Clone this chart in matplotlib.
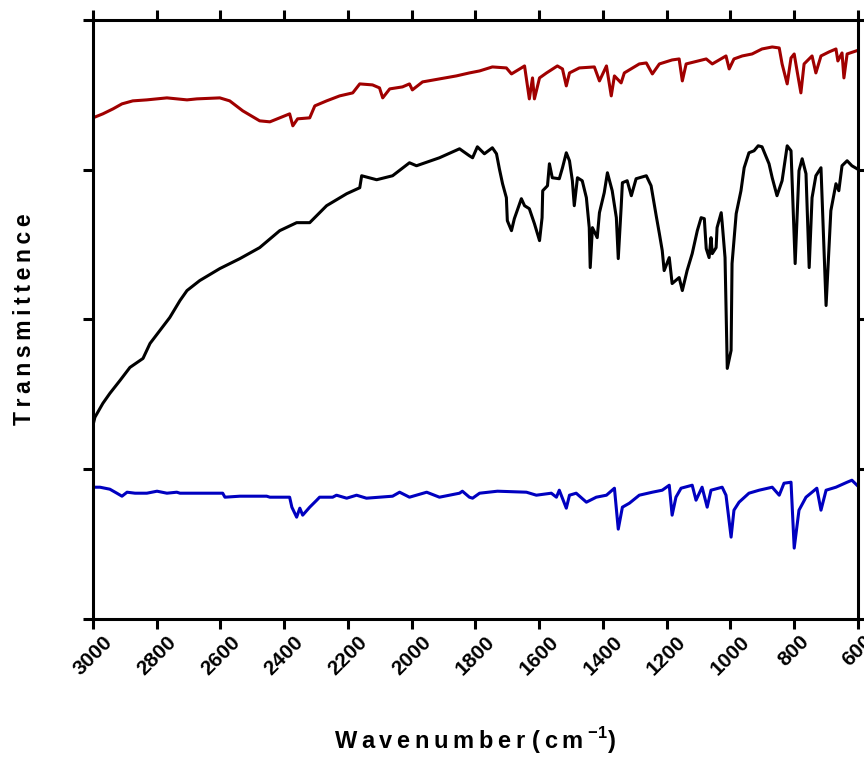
import matplotlib
matplotlib.use("Agg")
import matplotlib.pyplot as plt

plt.rcParams['font.family'] = ['Liberation Sans', 'DejaVu Sans']
plt.rcParams['mathtext.fontset'] = 'custom'
plt.rcParams['mathtext.bf'] = 'Liberation Sans:bold'
plt.rcParams['mathtext.rm'] = 'Liberation Sans:bold'

# spectra (wavenumber, transmittance in arbitrary units)
black_wn = [3000, 2994, 2969, 2947, 2915, 2884, 2843, 2821, 2790, 2759, 2727, 2705,
            2665, 2602, 2539, 2477, 2414, 2361, 2320, 2267, 2204, 2163, 2157, 2110,
            2060, 2007, 1985, 1913, 1850, 1819, 1809, 1794, 1772, 1747, 1734, 1725,
            1715, 1703, 1700, 1687, 1678, 1656, 1646, 1631, 1615, 1599, 1591, 1589,
            1574, 1568, 1559, 1537, 1527, 1515, 1505, 1496, 1490, 1480, 1465, 1452,
            1443, 1440, 1433, 1418, 1411, 1396, 1386, 1371, 1358, 1352, 1343, 1339,
            1324, 1311, 1296, 1264, 1249, 1233, 1223, 1214, 1208, 1192, 1183, 1161,
            1151, 1136, 1120, 1104, 1092, 1082, 1076, 1067, 1061, 1057, 1045, 1042,
            1029, 1026, 1017, 1010, 998, 995, 982, 967, 957, 942, 926, 913, 901, 879,
            869, 854, 838, 822, 810, 797, 785, 775, 763, 753, 744, 732, 716, 700,
            685, 669, 660, 650, 634, 619, 603]
black_t = [194, 202, 216, 226, 239, 252, 261, 276, 289, 302, 319, 329,
           339, 351, 361, 372, 389, 397, 397, 414, 426, 432, 444, 440,
           444, 457, 454, 462, 471, 464, 462, 473, 466, 472, 466, 451,
           436, 422, 399, 389, 401, 421, 414, 411, 396, 379, 402, 429,
           434, 456, 442, 441, 452, 467, 459, 439, 414, 442, 439, 422,
           392, 352, 392, 382, 407, 427, 447, 429, 402, 361, 412, 437,
           439, 424, 441, 444, 434, 404, 386, 369, 349, 362, 336, 342,
           329, 349, 366, 389, 402, 401, 371, 362, 382, 366, 372, 392,
           407, 397, 362, 251, 269, 356, 406, 429, 452, 467, 469, 474, 473, 456,
           442, 424, 439, 474, 469, 356, 449, 461, 446, 352, 422, 444, 452, 314,
           409, 436, 429, 454, 459, 454, 451]

red_wn = [3000, 2969, 2937, 2909, 2875, 2831, 2768, 2705, 2674, 2602, 2571, 2530,
          2477, 2445, 2414, 2383, 2373, 2358, 2320, 2304, 2267, 2226, 2185, 2163,
          2123, 2101, 2091, 2069, 2029, 2007, 1998, 1966, 1913, 1860, 1819, 1787,
          1747, 1703, 1687, 1656, 1646, 1631, 1621, 1615, 1599, 1577, 1543, 1527,
          1515, 1505, 1474, 1427, 1411, 1389, 1374, 1364, 1343, 1333, 1286, 1264,
          1245, 1223, 1183, 1161, 1151, 1139, 1076, 1057, 1014, 1004, 989, 963,
          932, 901, 869, 847, 838, 822, 810, 800, 791, 779, 769, 744, 732, 716,
          691, 669, 663, 650, 644, 634, 606]
red_t = [502, 506, 511, 516, 519, 520, 522, 520, 521, 522, 519, 509,
         499, 498, 502, 506, 494, 501, 502, 514, 519, 524, 527, 536,
         535, 532, 522, 531, 533, 536, 530, 538, 541, 544, 547, 549,
         553, 552, 546, 552, 554, 521, 542, 521, 542, 547, 554, 551,
         534, 547, 552, 553, 539, 554, 524, 544, 537, 547, 556, 557,
         546, 556, 560, 561, 539, 556, 561, 556, 564, 551, 561, 564,
         566, 571, 573, 572, 556, 536, 562, 566, 549, 527, 556, 564, 547, 564,
         568, 571, 559, 567, 542, 566, 569]

blue_wn = [3000, 2978, 2947, 2925, 2909, 2893, 2868, 2831, 2799, 2768, 2737, 2727,
           2593, 2586, 2539, 2455, 2445, 2383, 2376, 2361, 2351, 2342, 2320, 2298,
           2289, 2248, 2236, 2204, 2173, 2142, 2060, 2038, 2007, 1953, 1913, 1850,
           1841, 1819, 1809, 1787, 1731, 1640, 1609, 1562, 1546, 1537, 1515, 1505,
           1484, 1452, 1421, 1389, 1364, 1352, 1339, 1317, 1286, 1245, 1214, 1192,
           1183, 1171, 1155, 1120, 1108, 1089, 1073, 1061, 1026, 1014, 998, 989,
           973, 942, 910, 869, 847, 832, 810, 800, 785, 763, 744, 729, 716, 700,
           669, 634, 619, 603]
blue_t = [132, 132, 130, 126, 123, 127, 126, 126, 128, 126, 127, 126,
          126, 122, 123, 123, 122, 122, 112, 102, 111, 104, 112, 119,
          122, 122, 124, 121, 124, 121, 123, 127, 122, 127, 122, 126,
          128, 122, 121, 126, 128, 127, 124, 126, 122, 129, 111, 124,
          126, 117, 122, 124, 131, 90, 112, 116, 124, 127, 129, 134,
          104, 122, 131, 134, 119, 132, 112, 129, 132, 124, 82, 109,
          117, 126, 129, 132, 124, 136, 137, 71, 109, 122, 127, 131, 109, 129,
          132, 137, 139, 134]

x_ticks = [3000, 2800, 2600, 2400, 2200, 2000, 1800, 1600, 1400, 1200, 1000, 800, 600]
y_ticks = [0, 150, 300, 450, 600]

fig = plt.figure(figsize=(8.64, 7.58), dpi=100)
ax = fig.add_axes([0.1076, 0.1834, 0.8854, 0.7902])

ax.plot(red_wn, red_t, color='#A00000', lw=2.2)
ax.plot(black_wn, black_t, color='black', lw=2.2)
ax.plot(blue_wn, blue_t, color='#0000C0', lw=2.2)

ax.set_xlim(3000, 600)
ax.set_ylim(0, 600)
ax.set_xticks(x_ticks)
ax.set_yticks(y_ticks)
ax.set_yticklabels([])
ax.set_xticklabels([str(t) for t in x_ticks], rotation=45, ha='center',
                   fontsize=15, fontweight='bold')
ax.tick_params(axis='both', which='major', direction='out', length=7.5, width=2.2,
               top=True, right=True, pad=2)
for s in ax.spines.values():
    s.set_linewidth(2.2)

# letter-spaced labels, like the original
ts = '\u2009'
xlab = ts.join('Wavenumber') + ' (' + ts + 'c' + ts + 'm' + ts + r'$^{\mathbf{-1}}$)'
ylab = ts.join('Transmittence')
ax.set_xlabel(xlab, fontsize=17, fontweight='bold')
ax.set_ylabel(ylab, fontsize=16.5, fontweight='bold')
ax.xaxis.set_label_coords(0.5, -0.178)
ax.yaxis.set_label_coords(-0.075, 0.5)

fig.savefig('out.png', dpi=100)
